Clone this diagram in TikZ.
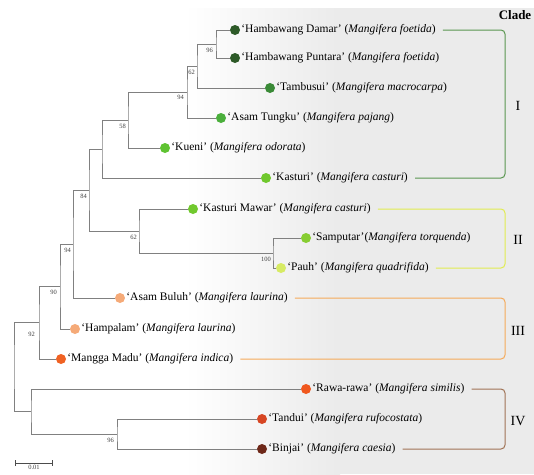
\documentclass[tikz,border=0pt]{standalone}
\usepackage{fontspec}
\setmainfont{Liberation Serif}
\usetikzlibrary{positioning,arrows.meta}

\definecolor{hambawang}{RGB}{45,90,40}
\definecolor{tambusui}{RGB}{58,138,55}
\definecolor{asamtungku}{RGB}{75,175,60}
\definecolor{kueni}{RGB}{95,195,50}
\definecolor{kasturi}{RGB}{112,200,45}
\definecolor{samputar}{RGB}{135,205,50}
\definecolor{pauh}{RGB}{215,235,100}
\definecolor{laurina}{RGB}{245,170,120}
\definecolor{indica}{RGB}{240,98,35}
\definecolor{similis}{RGB}{240,88,30}
\definecolor{tandui}{RGB}{215,70,35}
\definecolor{binjai}{RGB}{110,40,25}
\definecolor{cladeI}{RGB}{90,150,80}
\definecolor{cladeII}{RGB}{225,235,80}
\definecolor{cladeIII}{RGB}{245,170,90}
\definecolor{cladeIV}{RGB}{160,115,85}

\begin{document}
\begin{tikzpicture}[x=1pt, y=-1pt, node distance=0pt]
\tikzset{
    leafdot/.style={circle, inner sep=0pt, minimum size=10pt, draw=none},
    leaflabel/.style={inner sep=1pt, font=\fontsize{11.5}{13}\selectfont},
    branch/.style={draw=black!50, line width=0.9pt},
    bootlabel/.style={inner sep=1pt, font=\fontsize{6.5}{7}\selectfont, text=black!75},
    cladeline/.style={line width=1pt, rounded corners=4pt},
    cladename/.style={font=\fontsize{14}{16}\selectfont}
}
\useasboundingbox (0,0) rectangle (534,474);
\shade[left color=white, right color=black!8] (185,8) rectangle (340,474);
\fill[black!8] (340,8) rectangle (534,474);
% the grey wash behind the labels fades out to the left

\node[leafdot, fill=hambawang] (d1) at (235,30) {};
\node[leaflabel, right=of d1] (t1) {`Hambawang Damar' (\textit{Mangifera foetida})};
\node[leafdot, fill=hambawang] (d2) at (235,58) {};
\node[leaflabel, right=of d2] (t2) {`Hambawang Puntara' (\textit{Mangifera foetida})};
\node[leafdot, fill=tambusui] (d3) at (270,88) {};
\node[leaflabel, right=of d3] (t3) {`Tambusui' (\textit{Mangifera macrocarpa})};
\node[leafdot, fill=asamtungku] (d4) at (221,118) {};
\node[leaflabel, right=of d4] (t4) {`Asam Tungku' (\textit{Mangifera pajang})};
\node[leafdot, fill=kueni] (d5) at (165,148) {};
\node[leaflabel, right=of d5] (t5) {`Kueni' (\textit{Mangifera odorata})};
\node[leafdot, fill=kasturi] (d6) at (266,178) {};
\node[leaflabel, right=of d6] (t6) {`Kasturi' (\textit{Mangifera casturi})};
\node[leafdot, fill=kasturi] (d7) at (193,209) {};
\node[leaflabel, right=of d7] (t7) {`Kasturi Mawar' (\textit{Mangifera casturi})};
\node[leafdot, fill=samputar] (d8) at (306,238) {};
\node[leaflabel, right=of d8] (t8) {`Samputar'(\textit{Mangifera torquenda})};
\node[leafdot, fill=pauh] (d9) at (281,268) {};
\node[leaflabel, right=of d9] (t9) {`Pauh' (\textit{Mangifera quadrifida})};
\node[leafdot, fill=laurina] (d10) at (120,298) {};
\node[leaflabel, right=of d10] (t10) {`Asam Buluh' (\textit{Mangifera laurina})};
\node[leafdot, fill=laurina] (d11) at (75,329) {};
\node[leaflabel, right=of d11] (t11) {`Hampalam' (\textit{Mangifera laurina})};
\node[leafdot, fill=indica] (d12) at (61,359) {};
\node[leaflabel, right=of d12] (t12) {`Mangga Madu' (\textit{Mangifera indica})};
\node[leafdot, fill=similis] (d13) at (306,389) {};
\node[leaflabel, right=of d13] (t13) {`Rawa-rawa' (\textit{Mangifera similis})};
\node[leafdot, fill=tandui] (d14) at (262,419) {};
\node[leaflabel, right=of d14] (t14) {`Tandui' (\textit{Mangifera rufocostata})};
\node[leafdot, fill=binjai] (d15) at (262,449) {};
\node[leaflabel, right=of d15] (t15) {`Binjai' (\textit{Mangifera caesia})};

\coordinate (nA) at (216,44);
\coordinate (nB) at (197,66);
\coordinate (nC) at (187,92);
\coordinate (nD) at (128,120);
\coordinate (nE) at (102,149);
\coordinate (nH) at (273,253);
\coordinate (nG) at (139,231);
\coordinate (nF) at (89,190);
\coordinate (nI) at (73,244);
\coordinate (nJ) at (60,286);
\coordinate (nK) at (39,322);
\coordinate (nM) at (117,434);
\coordinate (nL) at (31,411);
\coordinate (root) at (14,367);
% each internal node sits halfway between its two children

\draw[branch] (d1.west) -| (nA) |- (d2.west);
\draw[branch] (nA) -| (nB) |- (d3.west);
\draw[branch] (nB) -| (nC) |- (d4.west);
\draw[branch] (nC) -| (nD) |- (d5.west);
\draw[branch] (nD) -| (nE) |- (d6.west);
\draw[branch] (d8.west) -| (nH) |- (d9.west);
\draw[branch] (d7.west) -| (nG) |- (nH);
\draw[branch] (nE) -| (nF) |- (nG);
\draw[branch] (nF) -| (nI) |- (d10.west);
\draw[branch] (nI) -| (nJ) |- (d11.west);
\draw[branch] (nJ) -| (nK) |- (d12.west);
\draw[branch] (d14.west) -| (nM) |- (d15.west);
\draw[branch] (d13.west) -| (nL) |- (nM);
\draw[branch] (nK) -| (root) |- (nL);

\node[bootlabel, below left=3pt and 2pt of nA] (bsA) {96};
\node[bootlabel, below left=3pt and 1pt of nB] (bsB) {62};
\node[bootlabel, below left=2pt and 2pt of nC] (bsC) {94};
\node[bootlabel, below left=3pt and 1pt of nD] (bsD) {58};
\node[bootlabel, below left=3pt and 1pt of nF] (bsF) {84};
\node[bootlabel, below left=3pt and 1pt of nG] (bsG) {62};
\node[bootlabel, below left=3pt and 1pt of nH] (bsH) {100};
\node[bootlabel, below left=3pt and 1pt of nI] (bsI) {94};
\node[bootlabel, below left=3pt and 2pt of nJ] (bsJ) {90};
\node[bootlabel, below left=9pt and 3pt of nK] (bsK) {92};
\node[bootlabel, below left=3pt and 2pt of nM] (bsM) {96};

\coordinate (cladex) at (505,0);
\draw[cladeline, cladeI] ([xshift=6pt]t1.east) -- (t1.east -| cladex) -- (t6.east -| cladex) -- ([xshift=6pt]t6.east);
\draw[cladeline, cladeII] ([xshift=6pt]t7.east) -- (t7.east -| cladex) -- (t9.east -| cladex) -- ([xshift=6pt]t9.east);
\draw[cladeline, cladeIII] ([xshift=6pt]t10.east) -- (t10.east -| cladex) -- (t12.east -| cladex) -- ([xshift=6pt]t12.east);
\draw[cladeline, cladeIV] ([xshift=6pt]t13.east) -- (t13.east -| cladex) -- (t15.east -| cladex) -- ([xshift=6pt]t15.east);
% brackets close on the right at the same x

\node[font=\fontsize{13}{15}\selectfont\bfseries] (cladehead) at (515,15) {Clade};
\node[cladename] (nameI) at (518,106) {I};
\node[cladename] (nameII) at (518,240) {II};
\node[cladename] (nameIII) at (518,331) {III};
\node[cladename] (nameIV) at (518,421) {IV};

\coordinate (scaleL) at (15,463);
\coordinate (scaleR) at (53,463);
\coordinate (scaleM) at (34,463);
\draw[draw=black!70, line width=0.8pt, {Bar[width=6pt]}-{Bar[width=6pt]}] (scaleL) -- (scaleR);
\node[bootlabel, below=1pt of scaleM] (scalelabel) {0.01};

\end{tikzpicture}
\end{document}
